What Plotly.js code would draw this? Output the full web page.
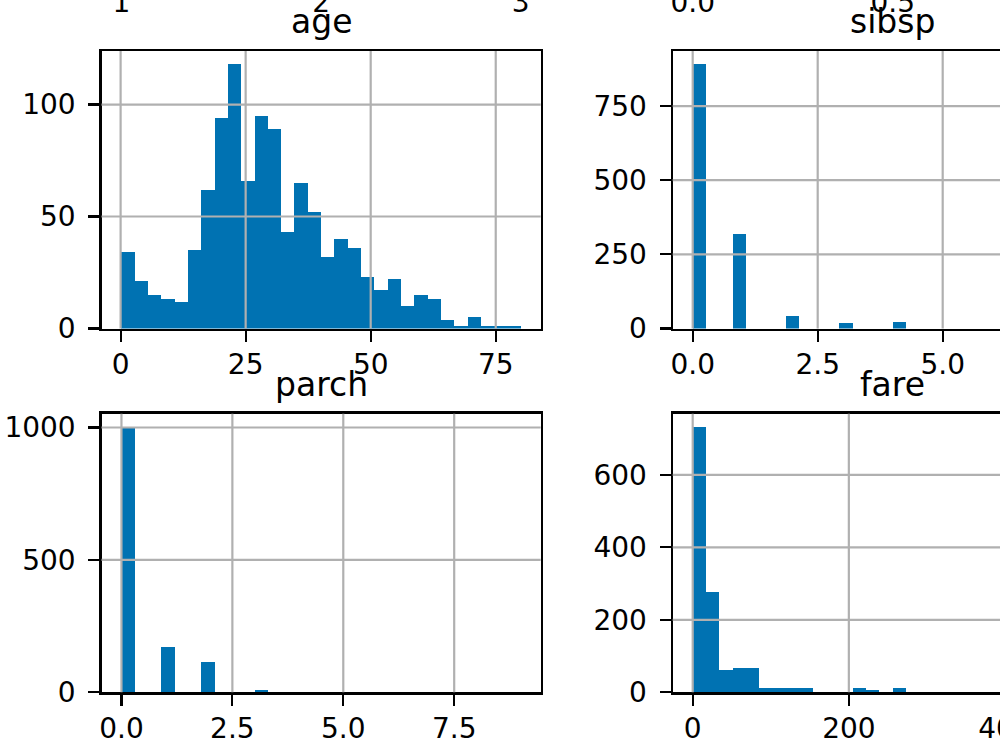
<!DOCTYPE html>
<html>
<head>
<meta charset="utf-8">
<script src="https://cdn.plot.ly/plotly-3.0.1.min.js"></script>
<style>
  html, body { margin: 0; padding: 0; overflow: hidden; background: #ffffff; }
  #wrap { position: relative; width: 1000px; height: 750px; overflow: hidden; background: #ffffff; }
  #plot { position: absolute; left: 0; top: -100px; width: 1200px; height: 850px; }
</style>
</head>
<body>
<div id="wrap"><div id="plot"></div></div>
<script>
// ---- data (30-bin histograms) ----
const ageRange = [0.17, 80];
const ageCounts = [34, 21, 15, 13, 12, 35, 62, 94, 118, 66, 95, 89, 43, 65, 52, 32, 40, 36, 23, 17, 22, 10, 15, 13, 4, 1, 5, 1, 1, 1];

const sibspRange = [0, 8];
const sibspCounts = [891, 0, 0, 319, 0, 0, 0, 42, 0, 0, 0, 20, 0, 0, 0, 22, 0, 0, 0, 0, 0, 0, 0, 0, 0, 0, 0, 0, 0, 9];

const parchRange = [0, 9];
const parchCounts = [1002, 0, 0, 170, 0, 0, 113, 0, 0, 0, 8, 0, 0, 0, 0, 0, 0, 0, 0, 0, 0, 0, 0, 0, 0, 0, 0, 0, 0, 2];

const fareRange = [0, 512.33];
const fareCounts = [732, 277, 61, 67, 67, 13, 13, 13, 13, 0, 0, 0, 13, 5, 0, 13, 0, 0, 0, 0, 0, 0, 0, 0, 0, 0, 0, 0, 0, 4];

// ---- titles and ticks ----
const panelTitles = ["age", "sibsp", "parch", "fare"];
const ageXTicks = [0, 25, 50, 75];
const ageYTicks = [0, 50, 100];
const sibspXTicks = [0, 2.5, 5, 7.5];
const sibspYTicks = [0, 250, 500, 750];
const parchXTicks = [0, 2.5, 5, 7.5];
const parchYTicks = [0, 500, 1000];
const fareXTicks = [0, 200, 400];
const fareYTicks = [0, 200, 400, 600];
// tick labels of the row above (cut by the frame edge)
const pclassTicks = [1, 2, 3];
const pclassRange = [0.9, 3.1];
const survivedTicks = [0, 0.5, 1];
const survivedRange = [-0.05, 1.05];

// ---- styling ----
const BAR = '#0072B2';
const GRID = '#b0b0b0';
const FONT = 'DejaVu Sans, sans-serif';
const TICKFS = 28, TITLEFS = 33;

function binned(range, counts) {
  const n = counts.length, w = (range[1] - range[0]) / n;
  const x = [], widths = [];
  for (let i = 0; i < n; i++) { x.push(range[0] + (i + 0.5) * w); widths.push(w); }
  return {x, w: widths};
}
function padded(range) {
  const span = range[1] - range[0];
  return [range[0] - 0.05 * span, range[1] + 0.05 * span];
}

const panels = [
  {id: '',  range: ageRange,   counts: ageCounts,   xt: ageXTicks,   yt: ageYTicks,   xfmt: 'd'},
  {id: '2', range: sibspRange, counts: sibspCounts, xt: sibspXTicks, yt: sibspYTicks, xfmt: '.1f'},
  {id: '3', range: parchRange, counts: parchCounts, xt: parchXTicks, yt: parchYTicks, xfmt: '.1f'},
  {id: '4', range: fareRange,  counts: fareCounts,  xt: fareXTicks,  yt: fareYTicks,  xfmt: 'd'}
];

// layout in div pixels (div is 1200 x 850, shifted up by 100)
const W = 1200, H = 850;
const colX = [[101.5, 540.7], [672.7, 1112.7]];
const rowY = [[151, 428.5], [513.7, 792.3]];
const upperRowBottom = 65.8;
const xd = c => [colX[c][0] / W, colX[c][1] / W];
const yd = r => [(H - rowY[r][1]) / H, (H - rowY[r][0]) / H];

const traces = [];
const shapes = [];
const annotations = [];
const layout = {
  width: W, height: H, autosize: false,
  margin: {l: 0, r: 0, t: 0, b: 0, pad: 0},
  paper_bgcolor: '#ffffff', plot_bgcolor: '#ffffff',
  showlegend: false, bargap: 0,
  font: {family: FONT, size: TICKFS, color: '#000000'}
};

function axisCommon() {
  return {
    showgrid: false, zeroline: false,
    showline: true, linecolor: '#000000', linewidth: 2.2, mirror: true,
    ticks: 'outside', ticklen: 11, tickwidth: 2.2, tickcolor: '#000000',
    tickfont: {family: FONT, size: TICKFS, color: '#000000'},
    fixedrange: true
  };
}

panels.forEach((p, i) => {
  const col = i % 2, row = Math.floor(i / 2);
  const b = binned(p.range, p.counts);
  const xa = 'x' + p.id, ya = 'y' + p.id;
  traces.push({
    type: 'bar', x: b.x, y: p.counts, width: b.w,
    xaxis: xa, yaxis: ya,
    marker: {color: BAR, line: {width: 0}},
    hoverinfo: 'skip'
  });
  const xr = padded(p.range);
  const yr = [0, Math.max(...p.counts) * 1.05];
  layout['xaxis' + p.id] = Object.assign(axisCommon(), {
    domain: xd(col), anchor: ya, range: xr,
    tickmode: 'array', tickvals: p.xt, tickformat: p.xfmt,
    ticklabelstandoff: -1
  });
  layout['yaxis' + p.id] = Object.assign(axisCommon(), {
    domain: yd(row), anchor: xa, range: yr,
    tickmode: 'array', tickvals: p.yt, tickformat: 'd',
    ticklabelstandoff: 7
  });
  // grid lines drawn over the bars, as in the reference
  p.xt.forEach(v => {
    if (v > xr[0] && v < xr[1]) shapes.push({type: 'line', xref: xa, yref: ya + ' domain',
      x0: v, x1: v, y0: 0, y1: 1, line: {color: GRID, width: 2.2}, layer: 'above'});
  });
  p.yt.forEach(v => {
    if (v > yr[0] && v < yr[1]) shapes.push({type: 'line', xref: xa + ' domain', yref: ya,
      x0: 0, x1: 1, y0: v, y1: v, line: {color: GRID, width: 2.2}, layer: 'above'});
  });
  annotations.push({
    text: panelTitles[i], showarrow: false,
    xref: xa + ' domain', yref: ya + ' domain', x: 0.5, y: 1,
    xanchor: 'center', yanchor: 'bottom', yshift: 8,
    font: {family: FONT, size: TITLEFS, color: '#000000'}
  });
});

// row above (only its tick labels reach into view)
const upper = [
  {id: '5', col: 0, range: pclassRange, ticks: pclassTicks, fmt: 'd'},
  {id: '6', col: 1, range: survivedRange, ticks: survivedTicks, fmt: '.1f'}
];
upper.forEach(u => {
  traces.push({type: 'scatter', mode: 'markers', x: [], y: [], xaxis: 'x' + u.id, yaxis: 'y' + u.id, hoverinfo: 'skip'});
  layout['xaxis' + u.id] = Object.assign(axisCommon(), {
    domain: xd(u.col), anchor: 'y' + u.id, range: u.range,
    tickmode: 'array', tickvals: u.ticks, tickformat: u.fmt, ticklabelstandoff: -1
  });
  layout['yaxis' + u.id] = Object.assign(axisCommon(), {
    domain: [(H - upperRowBottom) / H, 1], anchor: 'x' + u.id, range: [0, 1],
    showticklabels: false, ticks: ''
  });
});

layout.shapes = shapes;
layout.annotations = annotations;

Plotly.newPlot('plot', traces, layout, {displayModeBar: false, staticPlot: true});
</script>
</body>
</html>
